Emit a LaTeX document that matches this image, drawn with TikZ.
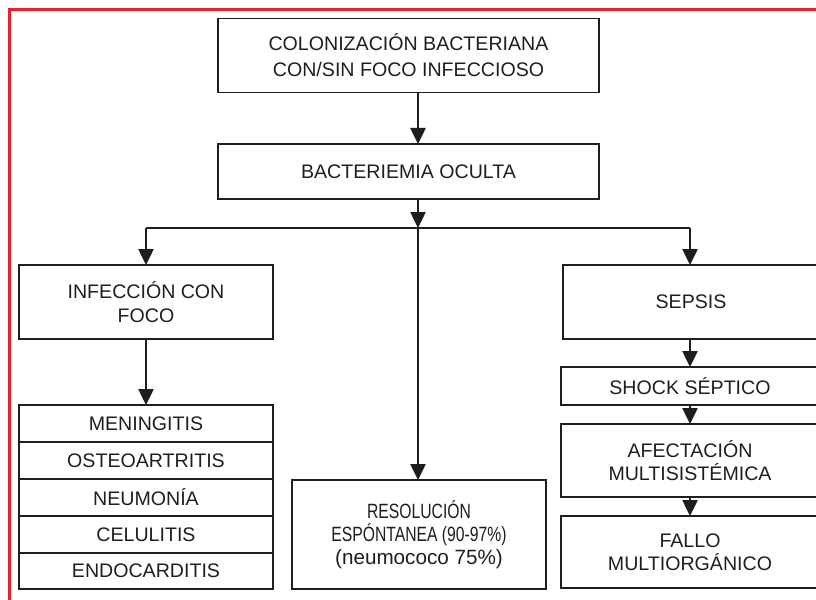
\documentclass[tikz,border=0pt]{standalone}
\usepackage{fontspec}
\setmainfont{Liberation Sans}
\newfontfamily\narrowsans[FakeStretch=0.76]{Liberation Sans}
\usetikzlibrary{arrows.meta}
\definecolor{ink}{HTML}{1E1E1E}
\definecolor{framered}{HTML}{E8202A}

\begin{document}
\begin{tikzpicture}[x=0.75pt,y=-0.75pt,
  wh/.style 2 args={minimum width=#1*0.75pt, minimum height=#2*0.75pt},
  box/.style={draw=ink, line width=1pt, inner sep=0pt, outer sep=0pt,
    align=center, text=ink, font=\fontsize{14.7pt}{17.4pt}\selectfont},
  link/.style={draw=ink, line width=1pt},
  arr/.style={link, -{Triangle[width=11.5pt,length=12pt]}}]

\useasboundingbox (0,0) rectangle (816,599);
\clip (0,0) rectangle (816,599);

% outer frame
\draw[framered, line width=1.6pt] (9.5,9.5) rectangle (900,700);

% top of the chain
\node[box, wh={381}{74}, font=\fontsize{14.7pt}{19.5pt}\selectfont] (colon) at (408.5,55.5)
  {COLONIZACIÓN BACTERIANA\\CON/SIN FOCO INFECCIOSO};
\node[box, wh={381}{55}] (bact) at (408.5,171.5) {BACTERIEMIA OCULTA};

% three branches
\node[box, wh={254}{74}] (infec) at (146,302) {INFECCIÓN CON\\FOCO};
\node[box, wh={256}{74}] (sepsis) at (691,302) {SEPSIS};
\node[box, wh={254}{109}, font=\fontsize{15.5pt}{17.2pt}\selectfont] (resol) at (419,534.5)
  {{\narrowsans RESOLUCIÓN}\\{\narrowsans ESPÓNTANEA (90-97\%)}\\(neumococo 75\%)};

% focal infections
\node[box, wh={254}{37}] (m1) at (146,423.5) {MENINGITIS};
\node[box, wh={254}{37}] (m2) at (146,460.5) {OSTEOARTRITIS};
\node[box, wh={254}{37}] (m3) at (146,497.5) {NEUMONÍA};
\node[box, wh={254}{37}] (m4) at (146,534.5) {CELULITIS};
\node[box, wh={254}{36}] (m5) at (146,571) {ENDOCARDITIS};

% sepsis progression
\node[box, wh={258}{38}] (shock) at (690,386) {SHOCK SÉPTICO};
\node[box, wh={258}{73}] (afect) at (690,460.5) {AFECTACIÓN\\MULTISISTÉMICA};
\node[box, wh={258}{72}] (fallo) at (690,552) {FALLO\\MULTIORGÁNICO};

% connectors
\coordinate (split) at (418,228);
\draw[arr] (colon.south -| split) -- (bact.north -| split);
\draw[arr] (bact.south -| split) -- (split);
\draw[link] (split -| infec.north) -- (split -| shock.north);
\draw[arr] (split -| infec.north) -- (infec.north);
\draw[arr] (split -| shock.north) -- (sepsis.north -| shock.north);
\draw[arr] (split) -- (resol.north -| split);
\draw[arr] (infec.south) -- (m1.north);
\draw[arr] (sepsis.south -| shock.north) -- (shock.north);
\draw[arr] (shock.south) -- (afect.north);
\draw[arr] (afect.south) -- (fallo.north);
\end{tikzpicture}
\end{document}
